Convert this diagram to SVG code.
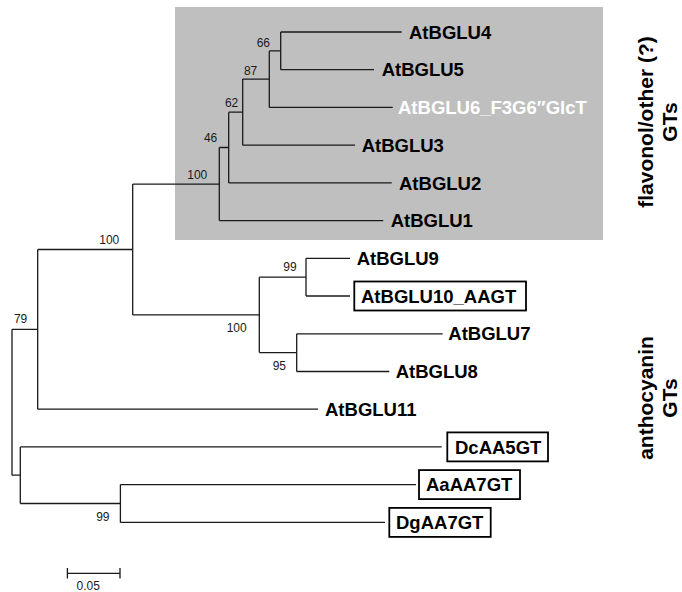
<svg xmlns="http://www.w3.org/2000/svg" width="682" height="592" viewBox="0 0 682 592">
<style>
.br{stroke:#1a1a1a;stroke-width:1.3;fill:none}
.tip{font-family:"Liberation Sans",Arial,sans-serif;font-weight:bold;font-size:18.5px;fill:#000}
.bs{font-family:"Liberation Sans",Arial,sans-serif;font-size:12px;fill:#1a1a1a;text-anchor:end}
.box{fill:none;stroke:#000;stroke-width:1.8}
.grp{font-family:"Liberation Sans",Arial,sans-serif;font-weight:bold;font-size:21px;fill:#000;text-anchor:middle}
</style>
<rect width="682" height="592" fill="#fff"/>
<rect id="flavonol-clade-bg" x="175" y="7" width="428" height="233" fill="#bfbfbf"/>
<g id="connectors" class="br">
<path d="M12 329.3V475.2M37.7 249.5V409.2M132.7 184.1V314.9M219.3 147.5V220.6M228.7 112.2V182.9M242.7 79.1V145.2M269.3 50.9V107.4M280.7 32V69.7M259.3 277.2V352.6M306 258.3V296M296.7 333.8V371.5M20.3 446.9V503.5M120.4 484.6V522.4"/>
<path d="M12 329.3H37.7M12 475.2H20.3M37.7 249.5H132.7M37.7 409.2H318M132.7 184.1H219.3M132.7 314.9H259.3M219.3 147.5H228.7M219.3 220.6H383.3M228.7 112.2H242.7M228.7 182.9H391.7M242.7 79.1H269.3M242.7 145.2H355M269.3 50.9H280.7M269.3 107.4H392.7M280.7 32H401.7M280.7 69.7H374M259.3 277.2H306M259.3 352.6H296.7M306 258.3H350M306 296H350M296.7 333.8H442.7M296.7 371.5H389.3M20.3 446.9H441.7M20.3 503.5H120.4M120.4 484.6H416M120.4 522.4H385"/>
</g>
<g id="bootstrap">
<text class="bs" x="270" y="47">66</text>
<text class="bs" x="257.3" y="75">87</text>
<text class="bs" x="238.3" y="106.7">62</text>
<text class="bs" x="217.3" y="141.7">46</text>
<text class="bs" x="207.3" y="179">100</text>
<text class="bs" x="119.3" y="244">100</text>
<text class="bs" x="246.7" y="331.7">100</text>
<text class="bs" x="296.7" y="271">99</text>
<text class="bs" x="286" y="370">95</text>
<text class="bs" x="27.3" y="323.3">79</text>
<text class="bs" x="109.5" y="521">99</text>
</g>
<g id="AtBGLU4"><text class="tip" x="409" y="38.6">AtBGLU4</text></g>
<g id="AtBGLU5"><text class="tip" x="381.7" y="76.3">AtBGLU5</text></g>
<g id="AtBGLU6"><text class="tip" x="398" y="114" style="fill:#fff">AtBGLU6_F3G6″GlcT</text></g>
<g id="AtBGLU3"><text class="tip" x="361.7" y="151.8">AtBGLU3</text></g>
<g id="AtBGLU2"><text class="tip" x="399" y="189.5">AtBGLU2</text></g>
<g id="AtBGLU1"><text class="tip" x="390.7" y="227.2">AtBGLU1</text></g>
<g id="AtBGLU9"><text class="tip" x="356.7" y="264.9">AtBGLU9</text></g>
<g id="AtBGLU10"><rect class="box" x="354.3" y="281.5" width="171.7" height="29"/><text class="tip" x="361" y="302.6">AtBGLU10_AAGT</text></g>
<g id="AtBGLU7"><text class="tip" x="448.3" y="340.4">AtBGLU7</text></g>
<g id="AtBGLU8"><text class="tip" x="395.7" y="378.1">AtBGLU8</text></g>
<g id="AtBGLU11"><text class="tip" x="325" y="415.8">AtBGLU11</text></g>
<g id="DcAA5GT"><rect class="box" x="447.3" y="432.4" width="100.7" height="29"/><text class="tip" x="455" y="453.5">DcAA5GT</text></g>
<g id="AaAA7GT"><rect class="box" x="419" y="470.1" width="101" height="29"/><text class="tip" x="426" y="491.2">AaAA7GT</text></g>
<g id="DgAA7GT"><rect class="box" x="389.3" y="507.9" width="101.4" height="29"/><text class="tip" x="396" y="529">DgAA7GT</text></g>
<g id="scale-bar">
<path class="br" d="M67.4 573.3H120M67.4 568V578.6M120 568V578.6"/>
<text x="76.5" y="590" font-family="Liberation Sans, Arial, sans-serif" font-size="12" fill="#1a1a1a">0.05</text>
</g>
<g id="group-flavonol">
<text class="grp" transform="translate(653,122) rotate(-90)">flavonol/other (?)</text>
<text class="grp" transform="translate(677,122) rotate(-90)">GTs</text>
</g>
<g id="group-anthocyanin">
<text class="grp" transform="translate(653,398) rotate(-90)">anthocyanin</text>
<text class="grp" transform="translate(677,398) rotate(-90)">GTs</text>
</g>
</svg>
